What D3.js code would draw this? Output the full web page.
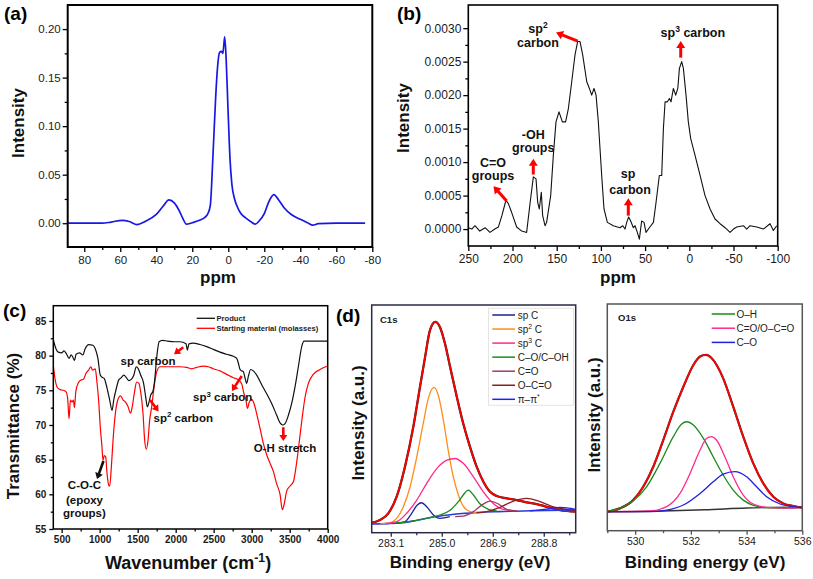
<!DOCTYPE html>
<html><head><meta charset="utf-8">
<script src="https://cdn.jsdelivr.net/npm/d3@7"></script>
<style>body{margin:0;background:#fff}svg{display:block}</style>
</head><body>
<svg id="chart" width="813" height="579"></svg>
<script>
// ---------- DATA ----------
// (a) NMR spectrum: [ppm, intensity]
const aSpectrum = [[89,0],[80,0],[70,0],[65,0.0012],[59,0.003],[55,0.0018],[50.7,-0.0015],[46,0.002],[40,0.009],[36,0.018],[33,0.024],[30,0.021],[27,0.012],[25,0.004],[23.3,-0.001],[20,0.0005],[16,0.003],[13,0.006],[11.3,0.01],[10,0.018],[8.5,0.07],[7,0.13],[6,0.16],[4.8,0.176],[3.8,0.177],[3,0.175],[2,0.192],[1.2,0.17],[0.2,0.12],[-1,0.065],[-2,0.04],[-3.5,0.025],[-5,0.017],[-7,0.01],[-10,0.005],[-13,0.001],[-15,-0.001],[-17,0.002],[-20,0.01],[-22.5,0.022],[-25.3,0.0295],[-28,0.024],[-31,0.016],[-35,0.009],[-40,0.004],[-44,0.0005],[-47,-0.002],[-50,-0.0005],[-60,0],[-76,0]];
const aXTicks = [80,60,40,20,0,-20,-40,-60,-80];
const aYTicks = [0,0.05,0.10,0.15,0.20];

// (b) 13C NMR spectrum: [ppm, intensity]
const bSpectrum = [[250,0.00002],[246,0],[242.5,0.00005],[237,-0.00003],[231,0.00002],[225.5,-0.00005],[220,0],[216,0.00003],[212,0.0002],[207.4,0.00043],[204.7,0.00038],[201,0.00025],[195.3,0.00003],[189.6,-0.00003],[184,-0.00005],[180,0.0004],[176.4,0.00078],[173.4,0.00075],[171.5,0.0004],[169.7,0.0003],[167.4,0.00055],[165.9,0.0002],[163.2,0.00005],[161.4,0.0001],[156.8,0.0005],[153.8,0.0011],[150.8,0.0016],[147.4,0.00175],[143.6,0.0016],[139.9,0.0016],[136.8,0.0018],[133,0.0022],[129.3,0.0026],[126.3,0.0028],[123.6,0.0028],[120.6,0.0026],[116,0.0022],[113,0.0021],[110.4,0.002],[107.8,0.0021],[105.5,0.002],[102.9,0.0016],[99.1,0.0008],[96.5,0.0003],[92.7,0.0001],[86,0.00005],[78.4,0.00002],[75.3,0.00005],[72.7,0],[70.8,0.0001],[68.6,0.00018],[66.3,0.00012],[63.3,0.00002],[61.4,0.00005],[58.8,-0.00005],[56.5,-0.00015],[53.9,0.00012],[51.2,0.0001],[49,-0.00005],[45.2,0.00002],[40.6,0.0001],[37.6,0.0004],[33.9,0.0008],[31.2,0.0008],[29.3,0.0015],[27.4,0.0019],[24.8,0.0019],[22.5,0.00195],[20.7,0.0019],[18,0.0021],[15.4,0.002],[13,0.0021],[11.2,0.0024],[8.6,0.0025],[6.7,0.0024],[3.7,0.002],[1.1,0.0016],[-1.6,0.00135],[-6.5,0.0011],[-12.2,0.0008],[-17.8,0.0005],[-23.5,0.0003],[-29.1,0.00015],[-34.8,0.00008],[-40.5,0.00002],[-46.1,-0.00005],[-50,0],[-53.7,0.00003],[-61.2,0.00005],[-65,0],[-68.7,0.00005],[-76.3,0.00003],[-83.8,0],[-91.3,0.00008],[-95.1,-0.00002],[-98.9,0.00005]];
const bXTicks = [250,200,150,100,50,0,-50,-100];
const bYTicks = [0,0.0005,0.0010,0.0015,0.0020,0.0025,0.0030];

// (c) FTIR: [wavenumber, transmittance %]
const cProduct = [[390,82.3],[425,81.0],[456,80.5],[500,80.4],[531,80.7],[566,80.2],[597,79.6],[624,80.1],[646,79.8],[668,79.3],[690,80.2],[734,80.4],[778,80.1],[809,81.0],[854,81.6],[911,81.5],[942,81.0],[977,79.6],[1008,77.2],[1030,76.9],[1061,76.7],[1097,75.3],[1132,73.6],[1163,72.1],[1185,73.6],[1220,75.3],[1251,76.5],[1282,76.8],[1318,77.2],[1353,76.8],[1384,76.4],[1419,76.6],[1450,77.2],[1481,78.4],[1508,78.1],[1539,77.2],[1574,76.2],[1605,74.1],[1627,72.6],[1649,73.3],[1671,74.3],[1702,74.9],[1724,76.5],[1751,79.8],[1782,82.0],[1826,82.2],[1892,82.1],[1981,82.0],[2057,82.0],[2136,81.7],[2154,80.8],[2175,81.7],[2232,81.8],[2320,81.6],[2408,81.3],[2496,80.9],[2583,80.5],[2671,80.2],[2759,79.9],[2803,79.6],[2825,78.9],[2847,78.0],[2869,77.8],[2890,77.7],[2912,76.8],[2934,76.0],[2956,77.0],[2987,78.0],[3022,77.8],[3066,77.2],[3132,75.8],[3197,74.5],[3263,73.1],[3329,71.4],[3373,70.3],[3408,70.0],[3439,70.2],[3483,71.4],[3526,73.1],[3570,75.5],[3614,78.4],[3658,81.3],[3689,82.1],[3768,82.1],[4000,82.1]];
const cMolasses = [[390,78.6],[412,76.7],[443,75.4],[478,75.1],[522,75.0],[557,74.8],[579,73.8],[597,70.9],[615,73.6],[637,73.3],[655,73.6],[668,72.5],[686,74.8],[721,76.1],[756,76.5],[787,76.6],[822,77.5],[854,77.9],[884,78.4],[907,77.9],[942,78.1],[964,76.2],[986,73.6],[1008,69.7],[1030,66.9],[1044,64.9],[1061,65.6],[1079,65.4],[1097,63.0],[1119,61.3],[1132,61.2],[1154,64.0],[1176,67.8],[1207,71.7],[1238,73.6],[1274,74.2],[1309,73.6],[1340,73.3],[1371,72.7],[1406,71.7],[1428,72.6],[1459,74.8],[1486,76.2],[1517,76.0],[1539,74.8],[1570,71.7],[1592,67.8],[1614,66.5],[1636,67.8],[1658,70.7],[1684,72.6],[1716,75.5],[1751,77.7],[1795,78.4],[1892,78.4],[2057,78.4],[2145,78.3],[2210,78.1],[2276,78.3],[2364,78.5],[2430,78.4],[2496,78.1],[2583,77.8],[2671,77.3],[2759,76.8],[2825,76.5],[2869,75.9],[2899,74.5],[2925,73.6],[2943,72.4],[2969,73.3],[3000,73.7],[3031,73.1],[3066,71.6],[3110,69.5],[3154,67.3],[3197,65.7],[3241,64.5],[3285,63.3],[3329,61.5],[3373,60.0],[3403,57.8],[3426,58.5],[3461,60.5],[3505,61.2],[3548,61.8],[3570,63.0],[3614,66.5],[3658,70.5],[3702,74.0],[3746,76.0],[3811,77.3],[3899,78.0],[4000,78.5]];
const cXTicks = [500,1000,1500,2000,2500,3000,3500,4000];
const cYTicks = [55,60,65,70,75,80,85];
const cSeriesNames = ["Product","Starting material (molasses)"];

// (d) XPS C1s: [binding energy eV, intensity a.u.]
const c1sEnvelope = [[282.39,4.7],[282.70,6.0],[283.01,9.2],[283.32,17.1],[283.63,31.3],[283.94,50.2],[284.19,69.2],[284.38,83.4],[284.56,96],[284.76,100],[284.93,97.6],[285.12,89.7],[285.31,78.7],[285.56,64.5],[285.80,51.8],[286.05,40.8],[286.30,31.3],[286.55,24.2],[286.80,19.4],[287.05,17.4],[287.42,16.3],[287.79,15.5],[288.16,14.4],[288.54,13.6],[288.91,12.3],[289.41,10.7],[289.99,10.0]];
const c1sSpC = [[283.3,4.4],[283.63,5.2],[283.88,9.2],[284.09,13.1],[284.25,14.2],[284.44,12.3],[284.69,8.4],[284.93,6.8],[285.3,7.6]];
const c1sSp2C = [[282.7,4.2],[283.07,4.7],[283.32,6.8],[283.57,12.3],[283.82,21.8],[284.07,36],[284.31,51.8],[284.50,63.7],[284.71,68.9],[284.87,65.2],[285.06,53.4],[285.24,39.2],[285.43,26.5],[285.62,17.9],[285.80,12.6],[286.05,10],[286.30,9.4]];
const c1sSp3C = [[282.9,4.3],[283.32,5.2],[283.69,9.2],[284.07,15.5],[284.44,23.4],[284.82,30.5],[285.19,34.4],[285.49,35.2],[285.80,32.9],[286.18,26.5],[286.55,19.4],[286.92,13.9],[287.29,11.1],[287.79,10.4]];
const c1sCO = [[283.3,4.6],[283.9,5.5],[284.44,6.8],[284.93,8.4],[285.31,10.7],[285.62,14.7],[285.80,17.9],[285.99,20.2],[286.18,17.9],[286.43,13.6],[286.74,11.1],[287.05,10.3]];
const c1sCdO = [[285.5,7.6],[285.80,7.9],[286.18,10],[286.49,13.1],[286.80,15],[287.11,13.6],[287.42,11.1],[287.79,10.3]];
const c1sOCdO = [[286.3,9.4],[286.67,10],[287.17,12],[287.67,15],[288.16,16.3],[288.66,14.7],[289.16,12.3],[289.66,11.1],[289.99,10.6]];
const c1sPiPi = [[288.29,10.4],[288.91,11.2],[289.41,12.0],[289.99,11.1]];
const c1sBackground = [[282.39,4.1],[283.0,4.3],[283.5,4.7],[284.0,5.7],[284.62,7.3],[285.24,8.4],[285.87,9.2],[287.11,10.0],[288.35,10.4],[289.99,10.8]];
const c1sXTicks = [283.1,285.0,286.9,288.8];
const c1sXMinor = [284.05,285.95,287.85,289.75];
const c1sNames = ["sp C","sp² C","sp³ C","C–O/C–OH","C=O","O–C=O","π–π*"];

// (d) XPS O1s
const o1sEnvelope = [[529.0,10.8],[529.45,12.7],[529.93,17.4],[530.29,25],[530.65,36.4],[531.01,51.6],[531.37,67.7],[531.73,81.9],[532.09,94.3],[532.33,99.1],[532.54,100],[532.80,97.2],[533.16,86.7],[533.52,70.6],[533.88,53.5],[534.24,38.3],[534.60,26.9],[534.96,19.3],[535.32,15.5],[535.68,14.0],[536.0,13.2]];
const o1sOH = [[529.0,10.8],[529.45,12.7],[529.93,17.0],[530.41,25],[530.89,38.3],[531.37,53.5],[531.67,60.7],[531.85,62.0],[532.09,60.1],[532.45,52.5],[532.80,42.1],[533.16,31.7],[533.52,23.1],[533.88,17.4],[534.24,14.4],[534.72,13.1],[535.32,12.9],[536,13.2]];
const o1sCdO = [[529,10.8],[530.53,11.2],[531.13,13.7],[531.61,21.2],[531.97,32.6],[532.33,45.9],[532.56,52.5],[532.74,53.5],[532.92,51.6],[533.22,42.1],[533.52,30.7],[533.88,20.3],[534.24,15.2],[534.72,13.3],[535.32,12.9],[536,13.2]];
const o1sCO = [[529,10.8],[530.53,10.8],[531.13,11.7],[531.73,14.6],[532.33,21.2],[532.80,27.8],[533.16,32.2],[533.58,33.6],[534.00,30.7],[534.36,25],[534.72,19.3],[535.20,15.2],[535.68,13.7],[536,13.2]];
const o1sBackground = [[529,10.8],[531,11.2],[532.5,11.9],[534,12.9],[536,13.5]];
const o1sXTicks = [530,532,534,536];
const o1sXMinor = [529,531,533,535];
const o1sNames = ["O–H","C=O/O–C=O","C–O"];

// ---------- DRAWING ----------
const FONT = '"Liberation Sans", Arial, Helvetica, sans-serif';
const svg = d3.select("#chart").attr("font-family", FONT);
let clipN = 0;

function makePanel(o) {
  const g = svg.append("g");
  const x = d3.scaleLinear().domain(o.xDomain).range([o.left, o.right]);
  const y = d3.scaleLinear().domain(o.yDomain).range([o.bottom, o.top]);
  const fc = o.frameColor || "#000";
  const style = sel => {
    sel.select(".domain").remove();
    sel.selectAll(".tick line").attr("stroke", fc).attr("stroke-width", o.tickWidth || 1.3);
    sel.selectAll("text").attr("font-size", o.tickFont).attr("font-weight", o.tickWeight || "normal")
      .attr("fill", "#1a1a1a").attr("font-family", FONT);
  };
  if (o.xMinor) g.append("g").attr("transform", `translate(0,${o.bottom})`)
    .call(d3.axisBottom(x).tickValues(o.xMinor).tickSize(o.minorLen).tickFormat(() => "")).call(style);
  if (o.xTicks) g.append("g").attr("transform", `translate(0,${o.bottom})`)
    .call(d3.axisBottom(x).tickValues(o.xTicks).tickSize(o.majorLen).tickPadding(o.xPad).tickFormat(o.xFmt)).call(style);
  if (o.yMinor) g.append("g").attr("transform", `translate(${o.left},0)`)
    .call(d3.axisLeft(y).tickValues(o.yMinor).tickSize(o.minorLen).tickFormat(() => "")).call(style);
  if (o.yTicks) g.append("g").attr("transform", `translate(${o.left},0)`)
    .call(d3.axisLeft(y).tickValues(o.yTicks).tickSize(o.majorLen).tickPadding(o.yPad).tickFormat(o.yFmt)).call(style);
  const id = "clip" + (clipN++);
  g.append("clipPath").attr("id", id).append("rect")
    .attr("x", o.left).attr("y", o.top).attr("width", o.right - o.left).attr("height", o.bottom - o.top);
  const plot = g.append("g").attr("clip-path", `url(#${id})`);
  g.append("rect").attr("x", o.left).attr("y", o.top).attr("width", o.right - o.left).attr("height", o.bottom - o.top)
    .attr("fill", "none").attr("stroke", fc).attr("stroke-width", o.frameWidth || 1.5);
  return { x, y, plot, g };
}

function drawLine(p, data, color, width, curve) {
  p.plot.append("path").datum(data).attr("fill", "none").attr("stroke", color).attr("stroke-width", width)
    .attr("stroke-linejoin", "round")
    .attr("d", d3.line().x(d => p.x(d[0])).y(d => p.y(d[1])).curve(curve || d3.curveLinear));
}

function rich(parent, x, y, parts, size, weight, anchor, fill) {
  const t = parent.append("text").attr("x", x).attr("y", y).attr("font-size", size)
    .attr("font-weight", weight || "normal").attr("text-anchor", anchor || "start").attr("fill", fill || "#111");
  let up = false;
  parts.forEach(p => {
    const s = typeof p === "string" ? [p, false] : p;
    const ts = t.append("tspan").text(s[0]);
    if (s[1]) { ts.attr("font-size", size * 0.68); if (!up) { ts.attr("dy", -size * 0.4); up = true; } }
    else if (up) { ts.attr("dy", size * 0.4); up = false; }
  });
  return t;
}

function arrow(parent, x1, y1, x2, y2, color, w, hl, hw) {
  const dx = x2 - x1, dy = y2 - y1, L = Math.hypot(dx, dy), ux = dx / L, uy = dy / L;
  const bx = x2 - ux * hl, by = y2 - uy * hl;
  parent.append("line").attr("x1", x1).attr("y1", y1).attr("x2", bx + ux * 0.5).attr("y2", by + uy * 0.5)
    .attr("stroke", color).attr("stroke-width", w);
  parent.append("path").attr("d", `M${x2},${y2}L${bx - uy * hw},${by + ux * hw}L${bx + uy * hw},${by - ux * hw}Z`).attr("fill", color);
}

function axisTitle(x, y, parts, size, rotate) {
  const g = svg.append("g").attr("transform", `translate(${x},${y})` + (rotate ? " rotate(-90)" : ""));
  rich(g, 0, 0, parts, size, "bold", "middle", "#111");
}

// ---- Panel (a)
const pa = makePanel({left: 67.7, right: 372.3, top: 5, bottom: 247, xDomain: [89.2, -80], yDomain: [-0.0245, 0.2248],
  xTicks: aXTicks, xMinor: [70,50,30,10,-10,-30,-50,-70], yTicks: aYTicks, yMinor: [0.025,0.075,0.125,0.175],
  xFmt: d => String(d), yFmt: d3.format(".2f"), tickFont: 11.5, majorLen: 5, minorLen: 3, xPad: 4, yPad: 2, frameWidth: 2});
drawLine(pa, aSpectrum, "#1717e6", 1.7, d3.curveMonotoneX);
axisTitle(24, 123, ["Intensity"], 17, true);
axisTitle(218, 283, ["ppm"], 17, false);
svg.append("text").attr("x", 4).attr("y", 20).attr("font-size", 19).attr("font-weight", "bold").text("(a)");

// ---- Panel (b)
const pb = makePanel({left: 468.3, right: 777.7, top: 5, bottom: 246, xDomain: [250, -100], yDomain: [-0.000253, 0.003346],
  xTicks: bXTicks, xMinor: [225,175,125,75,25,-25,-75], yTicks: bYTicks, yMinor: [0.00025,0.00075,0.00125,0.00175,0.00225,0.00275],
  xFmt: d => String(d), yFmt: d3.format(".4f"), tickFont: 12, majorLen: 5, minorLen: 3, xPad: 3, yPad: 2, frameWidth: 1.6});
drawLine(pb, bSpectrum, "#111", 1.1, d3.curveLinear);
axisTitle(409, 118, ["Intensity"], 17, true);
axisTitle(618, 283, ["ppm"], 17, false);
svg.append("text").attr("x", 397).attr("y", 20).attr("font-size", 19).attr("font-weight", "bold").text("(b)");
{
  const g = pb.g, X = pb.x, Y = pb.y, fs = 12.5, red = "#f00";
  const lbl = (px, v, parts) => rich(g, X(px), Y(v) + fs * 0.35, parts, fs, "bold", "middle");
  lbl(171.2, 0.00300, ["sp", ["2", true]]);
  lbl(171.2, 0.00279, ["carbon"]);
  arrow(g, X(126.2), Y(0.002806), X(150.8), Y(0.002935), red, 3, 7, 4.5);
  lbl(-4, 0.002933, ["sp", ["3", true], " carbon"]);
  arrow(g, X(9.7), Y(0.00256), X(9.7), Y(0.00281), red, 3, 7, 4.5);
  lbl(176.5, 0.001413, ["-OH"]);
  lbl(176.5, 0.001209, ["groups"]);
  arrow(g, X(176.5), Y(0.000814), X(176.5), Y(0.00105), red, 3, 7, 4.5);
  lbl(222, 0.000989, ["C=O"]);
  lbl(222, 0.000799, ["groups"]);
  arrow(g, X(206.6), Y(0.000419), X(221.5), Y(0.00064), red, 3, 7, 4.5);
  lbl(69.3, 0.000829, ["sp"]);
  lbl(67, 0.000595, ["carbon"]);
  arrow(g, X(69), Y(0.0002), X(69), Y(0.00046), red, 3, 7, 4.5);
}

// ---- Panel (c)
const pc = makePanel({left: 53.3, right: 327.7, top: 305.7, bottom: 529, xDomain: [390, 4000], yDomain: [55, 87.2],
  xTicks: cXTicks, xMinor: [750,1250,1750,2250,2750,3250,3750], yTicks: cYTicks, yMinor: [57.5,62.5,67.5,72.5,77.5,82.5],
  xFmt: d => String(d), yFmt: d => String(d), tickFont: 10, tickWeight: "bold", majorLen: 4, minorLen: 2.5, xPad: 3, yPad: 3, frameWidth: 1.5});
drawLine(pc, cMolasses, "#f00", 1.2, d3.curveMonotoneX);
drawLine(pc, cProduct, "#111", 1.2, d3.curveMonotoneX);
axisTitle(19, 426, ["Transmittance (%)"], 17, true);
axisTitle(188, 569, ["Wavenumber (cm", ["-1", true], ")"], 18, false);
svg.append("text").attr("x", 3).attr("y", 317).attr("font-size", 19).attr("font-weight", "bold").text("(c)");
{
  const g = pc.g;
  [["#111", 318.3], ["#f00", 328.3]].forEach((s, i) => {
    g.append("line").attr("x1", 196.7).attr("x2", 215).attr("y1", s[1]).attr("y2", s[1]).attr("stroke", s[0]).attr("stroke-width", 1.3);
    g.append("text").attr("x", 216.5).attr("y", s[1] + 2.7).attr("font-size", 7.6).attr("font-weight", "bold").attr("fill", "#222").text(cSeriesNames[i]);
  });
  const X = pc.x, Y = pc.y, fs = 11.5, red = "#f00";
  const lbl = (w, v, parts) => rich(g, X(w), Y(v) + fs * 0.35, parts, fs, "bold", "middle");
  lbl(1636, 79.27, ["sp carbon"]);
  arrow(g, X(2100), Y(81.2), X(1978), Y(80.2), red, 2.6, 6, 4);
  lbl(2100, 71.05, ["sp", ["2", true], " carbon"]);
  arrow(g, X(1662), Y(73.6), X(1775), Y(71.95), red, 2.6, 6, 4);
  lbl(2619, 74.0, ["sp", ["3", true], " carbon"]);
  arrow(g, X(2869), Y(77.06), X(2740), Y(74.9), red, 2.6, 6, 4);
  lbl(3438, 66.72, ["O-H stretch"]);
  arrow(g, X(3416), Y(69.67), X(3416), Y(67.7), red, 2.6, 6, 4);
  lbl(800, 61.35, ["C-O-C"]);
  lbl(800, 59.18, ["(epoxy"]);
  lbl(800, 57.24, ["groups)"]);
  arrow(g, X(1050), Y(64.8), X(965), Y(62.2), "#111", 2.6, 6, 4);
}

// ---- Panel (d) C1s
const pd = makePanel({left: 371.7, right: 575.7, top: 305, bottom: 532.7, xDomain: [282.39, 289.99], yDomain: [0, 108],
  xTicks: c1sXTicks, xMinor: c1sXMinor, xFmt: d3.format(".1f"), tickFont: 10.5, majorLen: 4, minorLen: 2.5, xPad: 3,
  frameWidth: 1.5, frameColor: "#2b2b45"});
drawLine(pd, c1sEnvelope, "#222", 2.3, d3.curveMonotoneX);
drawLine(pd, c1sEnvelope, "#ff0000", 1.8, d3.curveMonotoneX);
drawLine(pd, c1sBackground, "#2a3ad8", 1.6, d3.curveMonotoneX);
const c1sSeries = [c1sSpC, c1sSp2C, c1sSp3C, c1sCO, c1sCdO, c1sOCdO, c1sPiPi];
const c1sColors = ["#1f1f9a", "#ff8c1a", "#ff2a8a", "#1e8c1e", "#9b3b6b", "#8a1f1f", "#2020ff"];
c1sSeries.forEach((s, i) => drawLine(pd, s, c1sColors[i], 1.3, d3.curveMonotoneX));
svg.append("rect").attr("x", 488.5).attr("y", 308.3).attr("width", 85).attr("height", 97).attr("fill", "none").attr("stroke", "#e4e4e4").attr("stroke-width", 1);
c1sNames.forEach((n, i) => {
  const yy = 315 + i * 14.05;
  svg.append("line").attr("x1", 492.3).attr("x2", 515).attr("y1", yy).attr("y2", yy).attr("stroke", c1sColors[i]).attr("stroke-width", 1.5);
  const parts = n === "sp² C" ? ["sp", ["2", true], " C"] : n === "sp³ C" ? ["sp", ["3", true], " C"] : n === "π–π*" ? ["π–π", ["*", true]] : [n];
  rich(svg, 517.7, yy + 3.6, parts, 10, "normal", "start", "#222");
});
svg.append("text").attr("x", 380).attr("y", 323).attr("font-size", 9.5).attr("font-weight", "bold").attr("fill", "#222").text("C1s");
axisTitle(364, 423, ["Intensity (a.u.)"], 17, true);
axisTitle(470, 568, ["Binding energy (eV)"], 17, false);
svg.append("text").attr("x", 336).attr("y", 322).attr("font-size", 19).attr("font-weight", "bold").text("(d)");

// ---- Panel (d) O1s
const pe = makePanel({left: 607.3, right: 802.3, top: 304, bottom: 530.7, xDomain: [529, 536], yDomain: [0, 129],
  xTicks: o1sXTicks, xMinor: o1sXMinor, xFmt: d => String(d), tickFont: 10.5, majorLen: 4, minorLen: 2.5, xPad: 3,
  frameWidth: 1.5, frameColor: "#555"});
drawLine(pe, o1sBackground, "#333", 1.4, d3.curveMonotoneX);
drawLine(pe, o1sEnvelope, "#333", 2.2, d3.curveMonotoneX);
drawLine(pe, o1sEnvelope, "#ff0000", 1.8, d3.curveMonotoneX);
const o1sSeries = [o1sOH, o1sCdO, o1sCO];
const o1sColors = ["#1a8a1a", "#ff2a8a", "#2020e0"];
o1sSeries.forEach((s, i) => drawLine(pe, s, o1sColors[i], 1.3, d3.curveMonotoneX));
o1sNames.forEach((n, i) => {
  const yy = 314 + i * 14.2;
  svg.append("line").attr("x1", 711.7).attr("x2", 735).attr("y1", yy).attr("y2", yy).attr("stroke", o1sColors[i]).attr("stroke-width", 1.5);
  svg.append("text").attr("x", 736.5).attr("y", yy + 3.6).attr("font-size", 10).attr("fill", "#222").text(n);
});
svg.append("text").attr("x", 618).attr("y", 320.7).attr("font-size", 9.5).attr("font-weight", "bold").attr("fill", "#222").text("O1s");
axisTitle(600, 415, ["Intensity (a.u.)"], 17, true);
axisTitle(705, 568, ["Binding energy (eV)"], 17, false);
</script>
</body></html>
